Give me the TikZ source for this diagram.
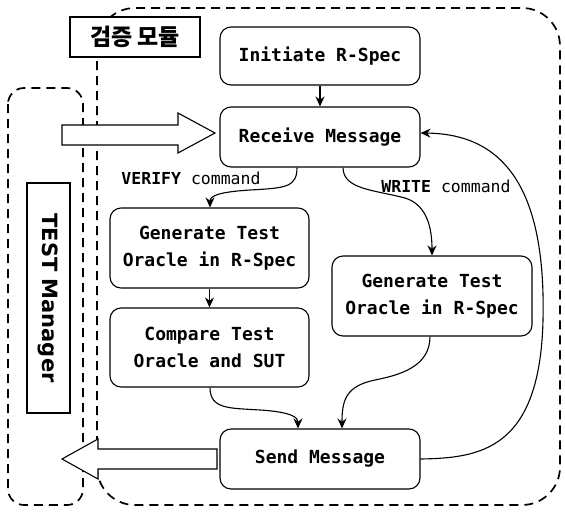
\documentclass[tikz,border=0pt]{standalone}
\usepackage{fontspec}
\setmainfont{DejaVu Sans}
\setsansfont{DejaVu Sans}
\setmonofont{DejaVu Sans Mono}
\newfontfamily\krfont{Noto Sans CJK KR}
\usetikzlibrary{arrows.meta}
\begin{document}
\begin{tikzpicture}[x=1pt,y=-1pt,
  stepbox/.style={draw, line width=1.1pt, rounded corners=11pt, fill=white,
    font=\ttfamily\bfseries\fontsize{18}{26.5}\selectfont, align=center, inner sep=0pt},
  dashedline/.style={line width=1.7pt, dash pattern=on 9pt off 6pt, rounded corners=38pt},
  arr/.style={line width=1.1pt, -{Stealth[length=10pt,width=9pt]}},
  lbl/.style={font=\ttfamily\fontsize{16.5}{20}\selectfont, inner sep=0pt},
  hollow/.style={draw, line width=1.1pt, fill=white}]
\useasboundingbox (0,0) rectangle (565,512);
% dashed regions
\draw[dashedline] (97,8) rectangle (560,505);
\draw[dashedline, rounded corners=16pt] (8,88) rectangle (83,505);
% module label
\node[draw, fill=white, line width=1.2pt, minimum width=130pt, minimum height=40pt, inner sep=0pt,
  font=\krfont\bfseries\fontsize{23}{26}\selectfont] (modlabel) at (135,37) {검증 모듈};
% TEST manager box
\node[draw, line width=1.1pt, rotate=-90, minimum width=230pt, minimum height=43pt, inner sep=0pt,
  font=\sffamily\bfseries\fontsize{21}{26}\selectfont] (tm) at (48.5,298) {TEST Manager};
% steps
\node[stepbox, minimum width=200pt, minimum height=58pt] (init) at (320,56) {Initiate R-Spec};
\node[stepbox, minimum width=200pt, minimum height=60pt] (recv) at (320,137) {Receive Message};
\node[stepbox, minimum width=199pt, minimum height=80pt] (genL) at (209.5,248) {Generate Test\\Oracle in R-Spec};
\node[stepbox, minimum width=199pt, minimum height=79pt] (cmp) at (209.5,347.5) {Compare Test\\Oracle and SUT};
\node[stepbox, minimum width=200pt, minimum height=80pt] (genR) at (432,296) {Generate Test\\Oracle in R-Spec};
\node[stepbox, minimum width=200pt, minimum height=60pt] (send) at (320,459) {Send Message};
% labels
\node[lbl] (verify) at (191,178) {\textbf{VERIFY} command};
\node[lbl] (write) at (446,186) {\textbf{WRITE} command};
% hollow arrows
\draw[hollow] (62,125) -- (178,125) -- (178,113) -- (215,133) -- (178,153) -- (178,145) -- (62,145) -- cycle;
\draw[hollow] (217,449) -- (98,449) -- (98,439) -- (62,459) -- (98,479) -- (98,469) -- (217,469) -- cycle;
% connectors
\draw[arr] (init.south) -- (recv.north);
\draw[arr] ([xshift=-23pt]recv.south) .. controls +(0,20) and (285,188) .. (250,190)
  .. controls (218,192) and (210,196) .. ([xshift=0.5pt]genL.north);
\draw[arr] ([xshift=23pt]recv.south) .. controls +(0,22) and (375,190) .. (405,198)
  .. controls (428,205) and (432,230) .. (genR.north);
\draw[arr] (genL.south) -- (cmp.north);
\draw[arr] ([xshift=0.5pt]cmp.south) .. controls +(0,22) and (230,408) .. (260,410)
  .. controls (293,412) and (298,418) .. ([xshift=-22pt]send.north);
\draw[arr] ([xshift=-2pt]genR.south) .. controls +(0,30) and (400,375) .. (375,380)
  .. controls (346,386) and (342,400) .. ([xshift=22pt]send.north);
\draw[arr] (send.east) .. controls (480,458) and (540,450) .. (543,320)
  .. controls (546,190) and (505,134) .. ([yshift=4pt]recv.east);
\end{tikzpicture}
\end{document}
